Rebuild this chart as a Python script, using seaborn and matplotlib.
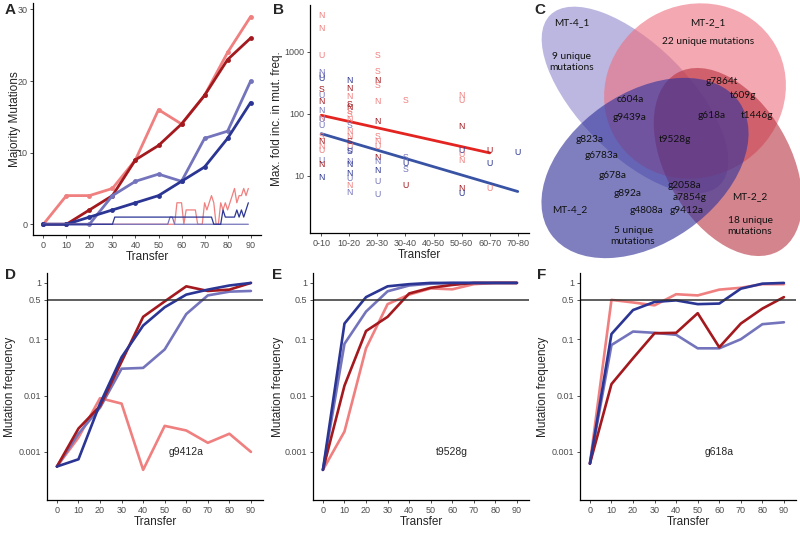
import matplotlib
matplotlib.use("Agg")
import matplotlib.pyplot as plt
import seaborn as sns
import pandas as pd
from matplotlib.patches import Ellipse

sns.set_theme(style="ticks")
plt.rcParams['font.family'] = ['Liberation Sans', 'DejaVu Sans']

# cores das 4 linhagens
cores = {"MT-2_1": "#F07F7F", "MT-2_2": "#A3191E", "MT-4_1": "#7474BC", "MT-4_2": "#2B3594"}
amostras = ["MT-2_1", "MT-2_2", "MT-4_1", "MT-4_2"]

transfer = [0, 10, 20, 30, 40, 50, 60, 70, 80, 90]

# === A: mutações maioritárias ===
maj_mt21 = [0, 4, 4, 5, 9, 16, 14, 18, 24, 29]
maj_mt22 = [0, 0, 2, 4, 9, 11, 14, 18, 23, 26]
maj_mt41 = [0, 0, 0, 4, 6, 7, 6, 12, 13, 20]
maj_mt42 = [0, 0, 1, 2, 3, 4, 6, 8, 12, 17]

thin_transfer = list(range(90))
thin_mt21 = [0, 0, 0, 0, 0, 0, 0, 0, 0, 0, 0, 0, 0, 0, 0, 0, 0, 0, 0, 0,
             0, 0, 0, 0, 0, 0, 0, 0, 0, 0, 0, 0, 0, 0, 0, 0, 0, 0, 0, 0,
             0, 0, 0, 0, 0, 0, 0, 0, 0, 0, 0, 0, 0, 0, 0, 0, 0, 0, 3, 3,
             3, 0, 2, 2, 2, 2, 2, 0, 0, 0, 3, 2, 3, 4, 3, 0, 0, 3, 2, 3,
             2, 3, 4, 5, 3, 4, 4, 5, 4, 5]
thin_mt41 = [0, 0, 0, 0, 0, 0, 0, 0, 0, 0, 0, 0, 0, 0, 0, 0, 0, 0, 0, 0,
             0, 0, 0, 0, 0, 0, 0, 0, 0, 0, 0, 0, 0, 0, 0, 0, 0, 0, 0, 0,
             0, 0, 0, 0, 0, 0, 0, 0, 0, 0, 0, 0, 0, 0, 0, 1, 1, 0, 0, 0,
             0, 0, 0, 0, 0, 0, 0, 0, 0, 0, 0, 0, 0, 0, 0, 0, 0, 0, 0, 0,
             0, 0, 0, 0, 0, 0, 0, 0, 0, 0]
thin_mt42 = [0, 0, 0, 0, 0, 0, 0, 0, 0, 0, 0, 0, 0, 0, 0, 0, 0, 0, 0, 0,
             0, 0, 0, 0, 0, 0, 0, 0, 0, 0, 0, 1, 1, 1, 1, 1, 1, 1, 1, 1,
             1, 1, 1, 1, 1, 1, 1, 1, 1, 1, 1, 1, 1, 1, 1, 1, 1, 1, 1, 1,
             1, 1, 1, 1, 1, 1, 1, 1, 1, 1, 1, 1, 1, 1, 0, 0, 0, 0, 2, 1,
             1, 1, 1, 1, 2, 1, 2, 1, 2, 3]

# === B: aumento máximo da frequência ===
b_categorias = ["0-10", "10-20", "20-30", "30-40", "40-50", "50-60", "60-70", "70-80"]
b_cat = [0, 0, 0, 0, 0, 0, 0, 0, 0, 0, 0, 0, 0, 0, 0, 0, 0, 0, 0, 0,
         1, 1, 1, 1, 1, 1, 1, 1, 1, 1, 1, 1, 1, 1, 1, 1, 1, 1, 1, 1, 1,
         2, 2, 2, 2, 2, 2, 2, 2, 2, 2, 2, 2, 2, 2,
         3, 3, 3, 3, 3,
         5, 5, 5, 5, 5, 5, 5, 5,
         6, 6, 6,
         7]
b_val = [3890, 2370, 860, 470, 420, 370, 250, 200, 157, 115, 85, 80, 66, 43, 36, 26, 18, 15, 9.3, 30,
         350, 256, 190, 140, 125, 110, 96, 80, 66, 52, 43, 36, 30, 26, 25, 17, 15, 11, 9, 7, 5.3,
         880, 480, 350, 290, 157, 75, 43, 36, 30, 20, 17, 12, 8, 5.1,
         167, 20, 16, 12.5, 7.1,
         200, 167, 62, 26, 22, 18, 6.3, 5.2,
         26, 16, 6.3,
         24]
b_letra = ["N", "N", "U", "N", "U", "U", "S", "U", "N", "N", "N", "U", "U", "S", "N", "U", "U", "N", "N", "N",
           "N", "N", "N", "S", "N", "S", "S", "N", "S", "N", "N", "S", "U", "U", "S", "N", "N", "N", "U", "N", "N",
           "S", "S", "N", "S", "N", "N", "S", "N", "U", "N", "N", "N", "U", "U",
           "S", "S", "U", "S", "U",
           "N", "U", "N", "U", "U", "N", "N", "U",
           "U", "U", "U",
           "U"]
b_amostra = ["MT-2_1", "MT-2_1", "MT-2_1", "MT-4_1", "MT-4_1", "MT-4_2", "MT-2_2", "MT-4_1", "MT-2_2", "MT-4_1",
             "MT-2_1", "MT-4_1", "MT-4_1", "MT-2_1", "MT-2_2", "MT-2_1", "MT-4_1", "MT-2_2", "MT-4_2", "MT-2_1",
             "MT-4_2", "MT-2_2", "MT-2_1", "MT-2_2", "MT-2_2", "MT-2_1", "MT-2_1", "MT-2_1", "MT-4_1", "MT-2_1",
             "MT-2_1", "MT-2_2", "MT-2_1", "MT-4_1", "MT-4_2", "MT-4_1", "MT-4_2", "MT-4_2", "MT-4_1", "MT-2_1", "MT-4_1",
             "MT-2_1", "MT-2_1", "MT-2_2", "MT-2_1", "MT-2_1", "MT-2_2", "MT-2_1", "MT-2_1", "MT-2_1", "MT-2_2",
             "MT-4_1", "MT-4_2", "MT-4_1", "MT-4_1",
             "MT-2_1", "MT-4_1", "MT-4_2", "MT-4_1", "MT-2_2",
             "MT-2_1", "MT-2_1", "MT-2_2", "MT-4_2", "MT-2_1", "MT-2_1", "MT-2_2", "MT-4_2",
             "MT-2_2", "MT-4_2", "MT-2_1",
             "MT-4_2"]
# retas de regressão (extremos)
reg_red_x = [0, 6]
reg_red_y = [95, 23.5]
reg_blue_x = [0, 7]
reg_blue_y = [48, 5.6]

# === D, E, F: frequência das mutações ===
freq_D = {
    "MT-2_1": [0.00055, 0.0018, 0.009, 0.0072, 0.00048, 0.0029, 0.0024, 0.00145, 0.0021, 0.001],
    "MT-4_1": [0.00055, 0.0021, 0.0061, 0.030, 0.031, 0.066, 0.28, 0.6, 0.7, 0.72],
    "MT-2_2": [0.00055, 0.0026, 0.0065, 0.04, 0.25, 0.47, 0.87, 0.72, 0.76, 1.0],
    "MT-4_2": [0.00055, 0.00074, 0.0072, 0.048, 0.175, 0.37, 0.62, 0.76, 0.9, 1.0],
}
freq_E = {
    "MT-2_1": [0.00048, 0.0023, 0.069, 0.42, 0.62, 0.8, 0.77, 0.95, 1.0, 1.0],
    "MT-2_2": [0.00048, 0.015, 0.14, 0.25, 0.65, 0.82, 0.92, 1.0, 1.0, 1.0],
    "MT-4_1": [0.00048, 0.083, 0.31, 0.71, 0.9, 0.97, 1.0, 1.0, 1.0, 1.0],
    "MT-4_2": [0.00048, 0.19, 0.56, 0.87, 0.95, 1.0, 1.0, 1.0, 1.0, 1.0],
}
freq_F = {
    "MT-2_1": [0.00062, 0.5, 0.45, 0.4, 0.63, 0.6, 0.76, 0.82, 0.95, 0.95],
    "MT-4_1": [0.00062, 0.079, 0.137, 0.13, 0.12, 0.069, 0.069, 0.1, 0.185, 0.2],
    "MT-2_2": [0.00062, 0.016, 0.046, 0.128, 0.13, 0.29, 0.072, 0.19, 0.35, 0.56],
    "MT-4_2": [0.00062, 0.124, 0.33, 0.46, 0.49, 0.42, 0.43, 0.79, 0.97, 1.0],
}
mutacoes_DEF = ["g9412a", "t9528g", "g618a"]

# === C: diagrama de Venn ===
venn_textos = ["MT-4_1", "MT-2_1", "22 unique mutations", "9 unique\nmutations",
               "g7864t", "t609g", "c604a", "g9439a", "g618a", "t1446g", "g823a", "t9528g",
               "g6783a", "g678a", "g2058a", "g892a", "a7854g", "MT-4_2", "g4808a", "g9412a",
               "MT-2_2", "18 unique\nmutations", "5 unique\nmutations"]

W, H = 800, 534
fig = plt.figure(figsize=(8, 5.34), dpi=100)


def eixo(esq, topo, dir, baixo):
    return fig.add_axes([esq / W, 1 - baixo / H, (dir - esq) / W, (baixo - topo) / H])


def estilo(ax, ylab_x):
    sns.despine(ax=ax)
    for s in ["left", "bottom"]:
        ax.spines[s].set_color("black")
        ax.spines[s].set_linewidth(0.9)
    ax.tick_params(axis="both", labelsize=6.5, labelcolor="#4D4D4D", color="#333333",
                   length=2.5, width=0.6, pad=1.5)
    ax.minorticks_off()
    ax.yaxis.set_label_coords(ylab_x, 0.5)


# --- Painel A ---
axA = eixo(33, 3, 261, 235)
for nome, vals in zip(amostras, [maj_mt21, maj_mt22, maj_mt41, maj_mt42]):
    sns.lineplot(x=transfer, y=vals, color=cores[nome], lw=2.0, marker="o", markersize=3.5,
                 markeredgewidth=0, ax=axA)
for nome, vals in zip(["MT-2_1", "MT-4_1", "MT-4_2"], [thin_mt21, thin_mt41, thin_mt42]):
    sns.lineplot(x=thin_transfer, y=vals, color=cores[nome], lw=0.9, ax=axA)
axA.set_xlim(-4.5, 94.5)
axA.set_ylim(-1.5, 30.9)
axA.set_xticks(transfer)
axA.set_yticks([0, 10, 20, 30])
axA.set_xlabel("Transfer", fontsize=8.5, labelpad=1)
axA.set_ylabel("Majority Mutations", fontsize=8.5, va="center")
estilo(axA, -0.079)

# --- Painel B ---
axB = eixo(310, 5, 529, 233)
dfB = pd.DataFrame({"cat": b_cat, "val": b_val, "letra": b_letra, "amostra": b_amostra})
for _, r in dfB.iterrows():
    axB.text(r["cat"], r["val"], r["letra"], color=cores[r["amostra"]], fontsize=6.3,
             ha="center", va="center")
sns.lineplot(x=reg_red_x, y=reg_red_y, color="#E32420", lw=2.0, ax=axB)
sns.lineplot(x=reg_blue_x, y=reg_blue_y, color="#3953A4", lw=2.0, ax=axB)
axB.set_yscale("log")
axB.set_ylim(1.2, 5700)
axB.set_xlim(-0.4, 7.4)
axB.set_xticks(range(len(b_categorias)))
axB.set_xticklabels(b_categorias)
axB.set_yticks([10, 100, 1000])
axB.set_yticklabels(["10", "100", "1000"])
axB.set_xlabel("Transfer", fontsize=8.5, labelpad=1)
axB.set_ylabel("Max. fold inc. in mut. freq.", fontsize=8.5, va="center")
estilo(axB, -0.151)

# --- Painel C (Venn) ---
axC = eixo(520, 0, 800, 260)
axC.set_xlim(520, 800)
axC.set_ylim(260, 0)
axC.axis("off")
elipses = [
    ((635, 100), 240, 110, 45, "#8E88CC", 0.6),
    ((695, 91), 185, 172, -30, "#EE6E7E", 0.6),
    ((728, 162), 205, 124, 60, "#B8323F", 0.6),
    ((645, 168), 230, 150, -35, "#34349C", 0.63),
]
for centro, w, h, ang, cor, alfa in elipses:
    axC.add_patch(Ellipse(centro, w, h, angle=ang, facecolor=cor, alpha=alfa, edgecolor="none"))
venn_pos = [(572, 23), (708, 23), (708, 42), (572, 62),
            (722, 82), (743, 95), (630, 100), (630, 117), (712, 116), (757, 115), (590, 140), (675, 140),
            (602, 156), (613, 175), (685, 185), (628, 193), (690, 197), (570, 210), (647, 210), (687, 210),
            (750, 197), (750, 226), (633, 236)]
for t, (x, y) in zip(venn_textos, venn_pos):
    axC.text(x, y, t, fontsize=7.3, ha="center", va="center", color="#111111",
             family=["Lato", "DejaVu Sans"], linespacing=1.25)

# --- Painéis D, E, F ---
for (esq, dir), dados, mut, yl in zip([(47, 263), (313, 529), (580, 796)], [freq_D, freq_E, freq_F],
                                      mutacoes_DEF, [-0.171, -0.162, -0.171]):
    ax = eixo(esq, 273, dir, 500)
    for nome in ["MT-2_1", "MT-4_1", "MT-2_2", "MT-4_2"]:
        sns.lineplot(x=transfer, y=dados[nome], color=cores[nome], lw=1.9, ax=ax)
    ax.axhline(0.5, color="#333333", lw=1.1)
    ax.set_yscale("log")
    ax.set_ylim(1.4e-4, 1.5)
    ax.set_xlim(-4.6, 95.6)
    ax.set_xticks(transfer)
    ax.set_yticks([0.001, 0.01, 0.1, 0.5, 1])
    ax.set_yticklabels(["0.001", "0.01", "0.1", "0.5", "1"])
    ax.text(60, 0.001, mut, fontsize=7.5, ha="center", va="center")
    ax.set_xlabel("Transfer", fontsize=8.5, labelpad=1)
    ax.set_ylabel("Mutation frequency", fontsize=8.5, va="center")
    estilo(ax, yl)

# letras dos painéis
for letra, x, y in [("A", 10, 10), ("B", 278, 10), ("C", 540, 10), ("D", 10, 275), ("E", 277, 275), ("F", 542, 275)]:
    fig.text(x / W, 1 - y / H, letra, fontsize=11, fontweight="bold", ha="center", va="center")

fig.savefig("out.png", dpi=100)
